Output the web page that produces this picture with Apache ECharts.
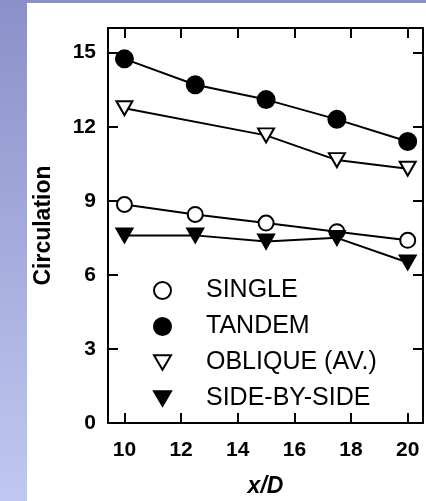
<html>
<head>
    <meta charset="utf-8">
    <title>Circulation vs x/D</title>
    <script src="https://cdn.jsdelivr.net/npm/echarts@6/dist/echarts.min.js"></script>
    <style>
        body { margin: 0; width: 426px; height: 501px; overflow: hidden;
               background: linear-gradient(to bottom, #8c90ca, #bfc8f0); }
        #chartmain { position: absolute; left: 27px; top: 3px; width: 399px; height: 498px; background: #fff; }
    </style>
</head>
<body>
<div id="chartmain"></div>
</body>
<script type="text/javascript">
    // data
    var xPos = [10, 12.5, 15, 17.5, 20];
    var singleVals = [8.85, 8.45, 8.1, 7.75, 7.4];
    var tandemVals = [14.75, 13.7, 13.1, 12.3, 11.4];
    var obliqueX = [10, 15, 17.5, 20];
    var obliqueVals = [12.75, 11.65, 10.65, 10.3];
    var sideVals = [7.6, 7.6, 7.35, 7.5, 6.5];
    var xTicks = [10, 12, 14, 16, 18, 20];
    var yTicks = [0, 3, 6, 9, 12, 15];

    var font = 'Arial, "Liberation Sans", sans-serif';
    var downTri = 'path://M0,0 L20,0 L10,17 Z';

    function pairs(xs, ys) {
        var out = [];
        for (var i = 0; i < xs.length; i++) {
            out.push([xs[i], ys[i]]);
        }
        return out;
    }

    // one axis, reused for the mirrored top/right side
    function makeAxis(pos, min, max, ticks, showLabel) {
        return {
            type: 'value',
            position: pos,
            min: min,
            max: max,
            splitLine: { show: false },
            axisLine: { onZero: false, lineStyle: { color: '#000', width: 2 } },
            axisTick: { inside: true, length: 10, customValues: ticks, lineStyle: { color: '#000', width: 2 } },
            axisLabel: {
                show: showLabel, customValues: ticks,
                color: '#000', fontWeight: 'bold', fontSize: 21, fontFamily: font,
                margin: (pos == 'bottom' ? 17 : 12)
            }
        };
    }

    function lineSeries(name, data, symbol, fill, size) {
        return {
            name: name,
            type: 'line',
            data: data,
            symbol: symbol,
            symbolSize: size,
            lineStyle: { color: '#000', width: 2 },
            itemStyle: { color: fill, borderColor: '#000', borderWidth: 2 }
        };
    }

    var myChart = echarts.init(document.getElementById('chartmain'));

    var bottomX = makeAxis('bottom', 9.42, 20.54, xTicks, true);
    bottomX.name = 'x/D';
    bottomX.nameLocation = 'middle';
    bottomX.nameGap = 52;
    bottomX.nameTextStyle = { color: '#000', fontWeight: 'bold', fontStyle: 'italic', fontSize: 23, fontFamily: font };

    var leftY = makeAxis('left', 0, 16, yTicks, true);
    leftY.name = 'Circulation';
    leftY.nameLocation = 'middle';
    leftY.nameRotate = 90;
    leftY.nameGap = 53;
    leftY.nameTextStyle = { color: '#000', fontWeight: 'bold', fontSize: 23, fontFamily: font };

    var option = {
        animation: false,
        grid: { left: 81, top: 25, right: 3, bottom: 78, outerBoundsMode: 'none' },
        xAxis: [bottomX, makeAxis('top', 9.42, 20.54, xTicks, false)],
        yAxis: [leftY, makeAxis('right', 0, 16, yTicks, false)],
        legend: {
            orient: 'vertical',
            left: 121,
            top: 270,
            itemWidth: 17,
            itemHeight: 17,
            itemGap: 11,
            textStyle: { color: '#000', fontSize: 25, fontFamily: font, padding: [0, 0, 0, 30] },
            data: [
                { name: 'SINGLE', icon: 'circle' },
                { name: 'TANDEM', icon: 'circle' },
                { name: 'OBLIQUE (AV.)', icon: downTri },
                { name: 'SIDE-BY-SIDE', icon: downTri }
            ]
        },
        series: [
            lineSeries('SINGLE', pairs(xPos, singleVals), 'circle', '#fff', 15),
            lineSeries('TANDEM', pairs(xPos, tandemVals), 'circle', '#000', 17),
            lineSeries('OBLIQUE (AV.)', pairs(obliqueX, obliqueVals), downTri, '#fff', [16, 14]),
            lineSeries('SIDE-BY-SIDE', pairs(xPos, sideVals), downTri, '#000', [16, 14])
        ]
    };

    myChart.setOption(option);
</script>
</html>
